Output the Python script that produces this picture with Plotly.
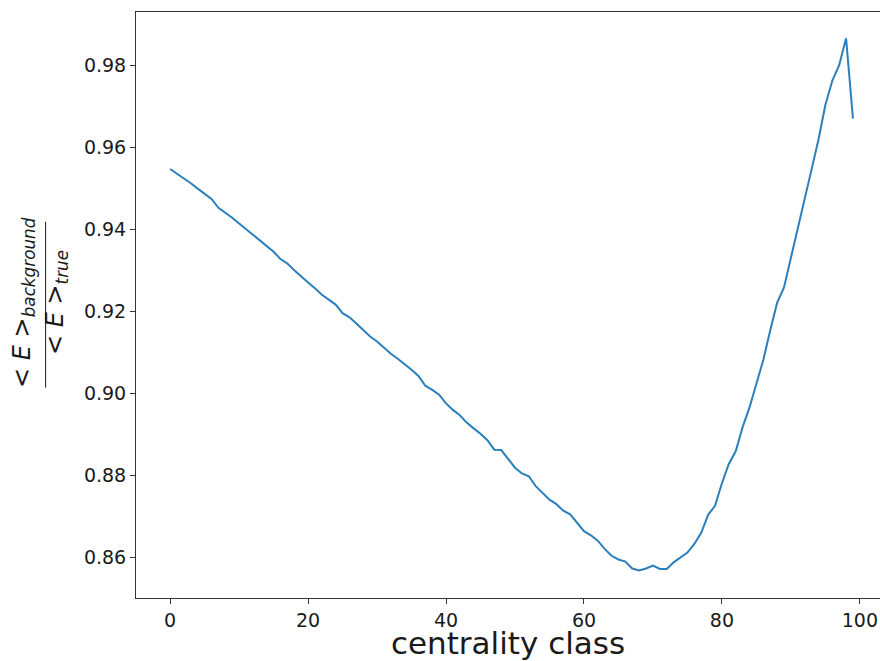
import plotly.graph_objects as go

centrality = list(range(100))
ratio = [
    0.9547, 0.9536, 0.9524, 0.9512, 0.9499, 0.9486, 0.9474, 0.9452, 0.9441, 0.9428,
    0.9414, 0.9400, 0.9386, 0.9374, 0.9360, 0.9345, 0.9327, 0.9316, 0.9300, 0.9284,
    0.9270, 0.9256, 0.9240, 0.9228, 0.9216, 0.9195, 0.9185, 0.9170, 0.9155, 0.9138,
    0.9126, 0.9111, 0.9096, 0.9084, 0.9071, 0.9057, 0.9042, 0.9018, 0.9008, 0.8996,
    0.8975, 0.8959, 0.8946, 0.8928, 0.8914, 0.8901, 0.8885, 0.8862, 0.8861, 0.8838,
    0.8818, 0.8804, 0.8797, 0.8773, 0.8756, 0.8740, 0.8729, 0.8713, 0.8704, 0.8682,
    0.8663, 0.8653, 0.8640, 0.8620, 0.8603, 0.8594, 0.8589, 0.8572, 0.8567, 0.8572,
    0.8579, 0.8571, 0.8571, 0.8587, 0.8598, 0.8611, 0.8632, 0.8659, 0.8703, 0.8725,
    0.8780, 0.8827, 0.8858, 0.8917, 0.8965, 0.9020, 0.9081, 0.9153, 0.9220, 0.9258,
    0.9332, 0.9404, 0.9478, 0.9546, 0.9619, 0.9703, 0.9762, 0.9800, 0.9866, 0.9670,
]
x_ticks = [0, 20, 40, 60, 80, 100]
y_ticks = [0.86, 0.88, 0.90, 0.92, 0.94, 0.96, 0.98]

FONT = "DejaVu Sans"

fig = go.Figure()
fig.add_trace(go.Scatter(x=centrality, y=ratio, mode="lines",
                         line=dict(color="#2a7fbc", width=2), showlegend=False))

fig.update_layout(
    width=880, height=661,
    margin=dict(l=136, r=0, t=12, b=63),
    paper_bgcolor="white", plot_bgcolor="white",
    font=dict(family=FONT, color="#1a1a1a"),
    xaxis=dict(range=[-4.95, 102.92], tickvals=x_ticks, ticktext=[str(v) for v in x_ticks],
               showgrid=False, zeroline=False, showline=True, mirror=True,
               linecolor="#333333", linewidth=1, ticks="outside", ticklen=5,
               tickcolor="#333333", tickfont=dict(size=19, family=FONT),
               title=dict(text="centrality class", font=dict(size=31, family=FONT), standoff=8)),
    yaxis=dict(range=[0.85, 0.993], tickvals=y_ticks, ticktext=[f"{v:.2f}" for v in y_ticks],
               showgrid=False, zeroline=False, showline=True, mirror=False,
               linecolor="#333333", linewidth=1, ticks="outside", ticklen=5,
               tickcolor="#333333", tickfont=dict(size=19, family=FONT)),
)

fig.add_annotation(text="&lt; <i>E</i> &gt;<sub><i>background</i></sub>",
                   xref="paper", yref="paper", x=-0.1505, y=0.5035,
                   xanchor="center", yanchor="middle", textangle=-90, showarrow=False,
                   font=dict(size=24, family=FONT, color="#1a1a1a"))
fig.add_annotation(text="&lt; <i>E</i> &gt;<sub><i>true</i></sub>",
                   xref="paper", yref="paper", x=-0.106, y=0.5035,
                   xanchor="center", yanchor="middle", textangle=-90, showarrow=False,
                   font=dict(size=24, family=FONT, color="#1a1a1a"))
fig.add_shape(type="line", xref="paper", yref="paper", x0=-0.1215, x1=-0.1215,
              y0=0.359, y1=0.642, line=dict(color="#1a1a1a", width=1))

fig.write_html("out.html")
